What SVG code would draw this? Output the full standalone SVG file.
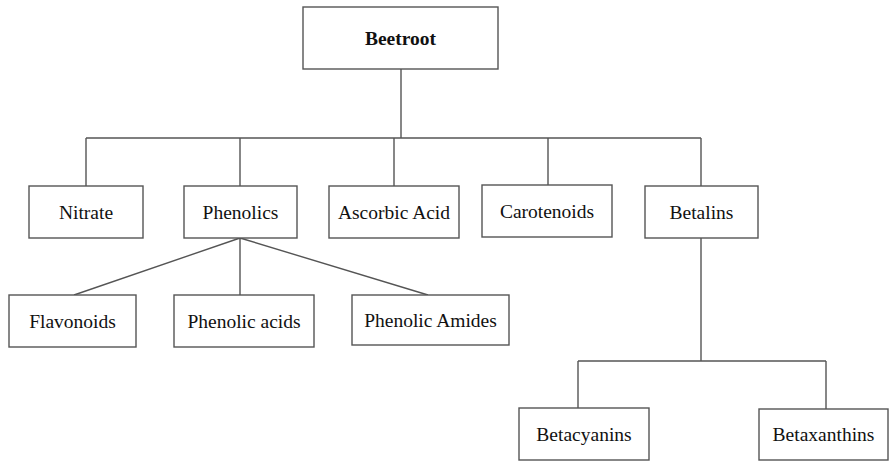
<svg xmlns="http://www.w3.org/2000/svg" width="889" height="462" viewBox="0 0 889 462">
<style>
.box{fill:#fff;stroke:#555;stroke-width:1.4}
.t{font-family:"Liberation Serif","Times New Roman",serif;font-size:19.5px;fill:#111;text-anchor:middle}
.b{font-weight:bold}
.c{fill:none;stroke:#555;stroke-width:1.4}
</style>
<rect width="889" height="462" fill="#fff"/>
<g id="connectors">
<path class="c" d="M401 69V138M86 138H701M86 138V186M240 138V186M394 138V186M548 138V185M701 138V186"/>
<path class="c" d="M240 238L74 295M240 238V295M240 238L428 295"/>
<path class="c" d="M701 238V361M578 361H826M578 361V408M826 361V409"/>
</g>
<g id="beetroot"><rect class="box" x="303" y="7" width="195" height="62"/><text class="t b" x="400.5" y="45">Beetroot</text></g>
<g id="nitrate"><rect class="box" x="29" y="186" width="114" height="52"/><text class="t" x="86" y="219">Nitrate</text></g>
<g id="phenolics"><rect class="box" x="184" y="186" width="113" height="52"/><text class="t" x="240.5" y="219">Phenolics</text></g>
<g id="ascorbic"><rect class="box" x="329" y="186" width="130" height="52"/><text class="t" x="394" y="219">Ascorbic Acid</text></g>
<g id="carotenoids"><rect class="box" x="482" y="185" width="130" height="52"/><text class="t" x="547" y="218">Carotenoids</text></g>
<g id="betalins"><rect class="box" x="645" y="186" width="113" height="52"/><text class="t" x="701.5" y="219">Betalins</text></g>
<g id="flavonoids"><rect class="box" x="9" y="295" width="127" height="52"/><text class="t" x="72.5" y="328">Flavonoids</text></g>
<g id="phenolic-acids"><rect class="box" x="174" y="295" width="140" height="52"/><text class="t" x="244" y="328">Phenolic acids</text></g>
<g id="phenolic-amides"><rect class="box" x="352" y="295" width="157" height="50"/><text class="t" x="430.5" y="327">Phenolic Amides</text></g>
<g id="betacyanins"><rect class="box" x="519" y="408" width="130" height="52"/><text class="t" x="584" y="441">Betacyanins</text></g>
<g id="betaxanthins"><rect class="box" x="759" y="409" width="129" height="51"/><text class="t" x="823.5" y="441">Betaxanthins</text></g>
</svg>
